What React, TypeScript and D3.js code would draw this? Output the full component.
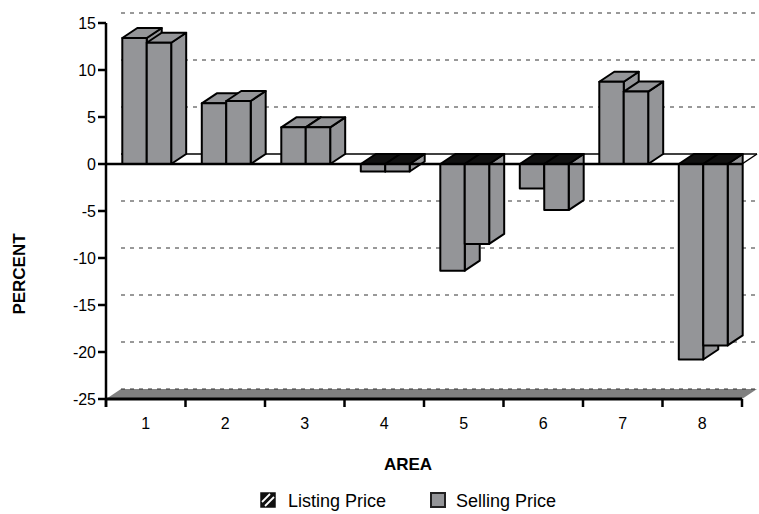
import React from "react";
import * as d3 from "d3";

const categories = ["1", "2", "3", "4", "5", "6", "7", "8"];
const seriesNames = ["Listing Price", "Selling Price"];
const listingPrice = [13.4, 6.45, 3.9, -0.8, -11.35, -2.6, 8.75, -20.8];
const sellingPrice = [12.9, 6.7, 3.9, -0.8, -8.5, -4.9, 7.7, -19.3];
const yTicks = [15, 10, 5, 0, -5, -10, -15, -20, -25];
const gridLevels = [15, 10, 5, -5, -10, -15, -20];

const W = 759;
const H = 514;
const DX = 15;
const DY = -10;
const FONT = "'Liberation Sans', Arial, Helvetica, sans-serif";
const BAR = "#949598";
const FLOOR = "#808080";

export default function App() {
  const y = d3.scaleLinear().domain([-25, 15]).range([399, 23]);
  const x = d3.scaleBand<string>().domain(categories).range([106, 742]);
  const bw = x.bandwidth();
  const xs = d3.scaleBand<string>().domain(seriesNames).range([bw * 0.205, bw * 0.82]);
  const w = xs.bandwidth();
  const y0 = y(0);
  const left = x.range()[0];
  const right = x.range()[1];
  const yMin = y(-25);

  const pts = (p: number[][]) => p.map((q) => q.join(",")).join(" ");

  const bars: JSX.Element[] = [];
  categories.forEach((c, i) => {
    [listingPrice[i], sellingPrice[i]].forEach((v, si) => {
      const bx = (x(c) as number) + (xs(seriesNames[si]) as number);
      const yv = y(v);
      const top = Math.min(yv, y0);
      const bot = Math.max(yv, y0);
      const key = `${c}-${si}`;
      const stroke = { stroke: "#000", strokeWidth: 2, strokeLinejoin: "round" as const };
      bars.push(
        <g key={key}>
          <polygon
            points={pts([
              [bx + w, bot],
              [bx + w + DX, bot + DY],
              [bx + w + DX, top + DY],
              [bx + w, top],
            ])}
            fill={BAR}
            {...stroke}
          />
          <polygon
            points={pts([
              [bx, top],
              [bx + w, top],
              [bx + w + DX, top + DY],
              [bx + DX, top + DY],
            ])}
            fill={v >= 0 ? BAR : "#111"}
            {...stroke}
          />
          <rect x={bx} y={top} width={w} height={bot - top} fill={BAR} {...stroke} />
        </g>
      );
    });
  });

  return (
    <svg
      width={W}
      height={H}
      style={{ position: "absolute", left: 0, top: 0, background: "#fff" }}
      fontFamily={FONT}
    >
      {/* back wall gridlines */}
      {gridLevels.map((g) => (
        <line
          key={g}
          x1={left + DX}
          x2={right + DX}
          y1={y(g) + DY}
          y2={y(g) + DY}
          stroke="#333"
          strokeWidth={1}
          strokeDasharray="4,5"
        />
      ))}
      {/* zero plane */}
      <polygon
        points={pts([
          [left, y0],
          [right, y0],
          [right + DX, y0 + DY],
          [left + DX, y0 + DY],
        ])}
        fill="#fff"
        stroke="none"
      />
      <line x1={left + DX} x2={right + DX} y1={y0 + DY} y2={y0 + DY} stroke="#000" strokeWidth={1.5} />
      <line x1={right} x2={right + DX} y1={y0} y2={y0 + DY} stroke="#000" strokeWidth={1.5} />
      {/* floor */}
      <polygon
        points={pts([
          [left, yMin],
          [right, yMin],
          [right + DX, yMin + DY],
          [left + DX, yMin + DY],
        ])}
        fill={FLOOR}
      />
      <line
        x1={left + DX}
        x2={right + DX}
        y1={yMin + DY}
        y2={yMin + DY}
        stroke="#333"
        strokeWidth={1}
        strokeDasharray="4,5"
      />
      {bars}
      {/* zero line */}
      <line x1={left} x2={right} y1={y0} y2={y0} stroke="#000" strokeWidth={2.5} />
      {/* x axis */}
      <line x1={left} x2={right} y1={yMin} y2={yMin} stroke="#000" strokeWidth={3} />
      {d3.range(categories.length + 1).map((k) => {
        const tx = left + k * bw;
        return <line key={k} x1={tx} x2={tx} y1={yMin} y2={yMin + 8} stroke="#000" strokeWidth={2.5} />;
      })}
      {categories.map((c) => (
        <text
          key={c}
          x={(x(c) as number) + bw / 2}
          y={yMin + 30}
          textAnchor="middle"
          fontSize={16}
          fill="#000"
        >
          {c}
        </text>
      ))}
      {/* y axis */}
      <line x1={left} x2={left} y1={y(15)} y2={yMin + 8} stroke="#000" strokeWidth={2.5} />
      {yTicks.map((t) => (
        <g key={t}>
          <line x1={left - 8} x2={left} y1={y(t)} y2={y(t)} stroke="#000" strokeWidth={2.5} />
          <text x={left - 10} y={y(t)} dy="0.35em" textAnchor="end" fontSize={16} fill="#000">
            {t}
          </text>
        </g>
      ))}
      {/* axis titles */}
      <text x={408} y={470} textAnchor="middle" fontSize={17} fontWeight="bold" fill="#000">
        AREA
      </text>
      <text
        transform={`translate(25,274) rotate(-90)`}
        textAnchor="middle"
        fontSize={17}
        fontWeight="bold"
        fill="#000"
      >
        PERCENT
      </text>
      {/* legend */}
      <g>
        <rect x={261} y={493} width={14} height={14} fill="#111" stroke="#111" strokeWidth={1.5} />
        <line x1={262} y1={502} x2={270} y2={494} stroke="#fff" strokeWidth={1.8} />
        <line x1={265} y1={506} x2={274} y2={497} stroke="#fff" strokeWidth={1.8} />
        <text x={288} y={507} fontSize={18} fill="#000">
          {seriesNames[0]}
        </text>
        <rect x={431} y={493} width={14} height={14} fill={BAR} stroke="#222" strokeWidth={2} />
        <text x={456} y={507} fontSize={18} fill="#000">
          {seriesNames[1]}
        </text>
      </g>
    </svg>
  );
}
